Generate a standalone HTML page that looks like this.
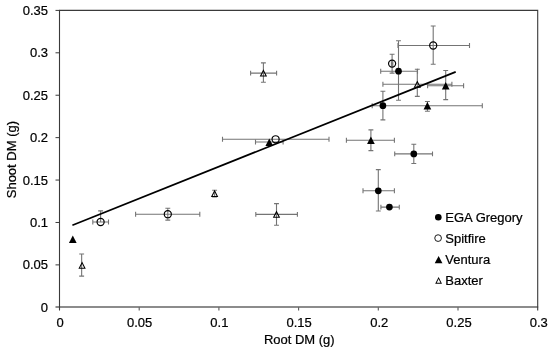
<!DOCTYPE html>
<html><head><meta charset="utf-8"><title>Shoot DM vs Root DM</title>
<style>
html,body{margin:0;padding:0;background:#fff;}
body{width:550px;height:352px;overflow:hidden;}
svg{display:block;opacity:0.999;will-change:transform;}
text{font-family:"Liberation Sans",sans-serif;font-size:13px;fill:#000;stroke:#000;stroke-width:0.22px;}
</style></head><body>
<svg width="550" height="352" viewBox="0 0 550 352">
<rect width="550" height="352" fill="#fff"/>
<g>
<path d="M55.5 306.95H538.2" fill="none" stroke="#666" stroke-width="1.6"/>
<path d="M59.5 310.6V10.4H537.7V310.6" fill="none" stroke="#3a3a3a" stroke-width="1.1"/>
<path d="M55.5 264.89H59.5M55.5 222.47H59.5M55.5 180.06H59.5M55.5 137.64H59.5M55.5 95.23H59.5M55.5 52.81H59.5M55.5 10.40H59.5" fill="none" stroke="#3a3a3a" stroke-width="1"/>
<path d="M139.20 307.3V310.5M218.90 307.3V310.5M298.60 307.3V310.5M378.30 307.3V310.5M458.00 307.3V310.5" fill="none" stroke="#5a5a5a" stroke-width="1.1"/>
</g>
<g fill="none" stroke="#747474" stroke-width="1.1">
<path d="M380.7 71.2H417.5M380.7 68.75V73.65M417.5 68.75V73.65"/>
<path d="M398.5 40.8V100.2M396.05 40.8H400.95M396.05 100.2H400.95"/>
<path d="M382.9 91.3V119.9M380.45 91.3H385.34999999999997M380.45 119.9H385.34999999999997"/>
<path d="M394.7 153.9H432.5M394.7 151.45000000000002V156.35M432.5 151.45000000000002V156.35"/>
<path d="M413.8 144.3V163.5M411.35 144.3H416.25M411.35 163.5H416.25"/>
<path d="M363 190.8H394.4M363 188.35000000000002V193.25M394.4 188.35000000000002V193.25"/>
<path d="M378.3 169.6V211M375.85 169.6H380.75M375.85 211H380.75"/>
<path d="M380.9 207.1H399.3M380.9 204.65V209.54999999999998M399.3 204.65V209.54999999999998"/>
<path d="M398 45.5H469.5M398 43.05V47.95M469.5 43.05V47.95"/>
<path d="M433.2 26V64.2M430.75 26H435.65M430.75 64.2H435.65"/>
<path d="M391.4 63.6H392.8M391.4 61.15V66.05M392.8 61.15V66.05"/>
<path d="M392.1 54.3V73.1M389.65000000000003 54.3H394.55M389.65000000000003 73.1H394.55"/>
<path d="M222.5 139.3H329M222.5 136.85000000000002V141.75M329 136.85000000000002V141.75"/>
<path d="M135.6 214.2H199.8M135.6 211.75V216.64999999999998M199.8 211.75V216.64999999999998"/>
<path d="M167.8 208.3V220.1M165.35000000000002 208.3H170.25M165.35000000000002 220.1H170.25"/>
<path d="M92.8 222H108.5M92.8 219.55V224.45M108.5 219.55V224.45"/>
<path d="M100.6 210.9V222M98.14999999999999 210.9H103.05"/>
<path d="M427.6 85.7H463.6M427.6 83.25V88.15M463.6 83.25V88.15"/>
<path d="M445.7 70.5V99.6M443.25 70.5H448.15M443.25 99.6H448.15"/>
<path d="M372.2 105.8H482.3M372.2 103.35V108.25M482.3 103.35V108.25"/>
<path d="M427.4 101.5V111.2M424.95 101.5H429.84999999999997M424.95 111.2H429.84999999999997"/>
<path d="M346.4 140.3H394.4M346.4 137.85000000000002V142.75M394.4 137.85000000000002V142.75"/>
<path d="M370.9 129.9V150.6M368.45 129.9H373.34999999999997M368.45 150.6H373.34999999999997"/>
<path d="M255.5 142.0H283.1M255.5 139.55V144.45M283.1 139.55V144.45"/>
<path d="M250.6 73.1H276.6M250.6 70.64999999999999V75.55M276.6 70.64999999999999V75.55"/>
<path d="M263.4 62.9V82.2M260.95 62.9H265.84999999999997M260.95 82.2H265.84999999999997"/>
<path d="M382.9 84.3H451.9M382.9 81.85V86.75M451.9 81.85V86.75"/>
<path d="M417.3 69.2V96.4M414.85 69.2H419.75M414.85 96.4H419.75"/>
<path d="M214.6 190.2V197.0M212.15 190.2H217.04999999999998M212.15 197.0H217.04999999999998"/>
<path d="M255.8 214.4H297.4M255.8 211.95000000000002V216.85M297.4 211.95000000000002V216.85"/>
<path d="M276.5 203.6V225.3M274.05 203.6H278.95M274.05 225.3H278.95"/>
<path d="M81.65 254V276.1M79.2 254H84.10000000000001M79.2 276.1H84.10000000000001"/>
</g>
<path d="M72.4 225.2L455.7 71.9" stroke="#000" stroke-width="1.7" fill="none" stroke-linecap="butt"/>
<g>
<circle cx="398.5" cy="71.2" r="3.35" fill="#000"/>
<circle cx="382.9" cy="105.7" r="3.35" fill="#000"/>
<circle cx="413.8" cy="153.9" r="3.35" fill="#000"/>
<circle cx="378.3" cy="190.8" r="3.35" fill="#000"/>
<circle cx="389.4" cy="207.1" r="3.35" fill="#000"/>
<circle cx="433.2" cy="45.5" r="3.55" fill="none" stroke="#000" stroke-width="1.2"/>
<circle cx="392.1" cy="63.6" r="3.55" fill="none" stroke="#000" stroke-width="1.2"/>
<circle cx="275.6" cy="139.3" r="3.55" fill="none" stroke="#000" stroke-width="1.2"/>
<circle cx="167.8" cy="214.2" r="3.55" fill="none" stroke="#000" stroke-width="1.2"/>
<circle cx="100.6" cy="222" r="3.55" fill="none" stroke="#000" stroke-width="1.2"/>
<path d="M445.7 82.0L449.55 89.4H441.84999999999997Z" fill="#000"/>
<path d="M427.4 102.1L431.25 109.5H423.54999999999995Z" fill="#000"/>
<path d="M370.9 136.60000000000002L374.75 144.0H367.04999999999995Z" fill="#000"/>
<path d="M269.3 138.60000000000002L273.15000000000003 146.0H265.45Z" fill="#000"/>
<path d="M72.8 235.5L76.64999999999999 242.89999999999998H68.95Z" fill="#000"/>
<path fill-rule="evenodd" fill="#000" d="M263.4 69.30L267.10 76.55H259.70ZM263.4 71.61L261.41 75.50H265.39Z"/>
<path fill-rule="evenodd" fill="#000" d="M417.3 80.50L421.00 87.75H413.60ZM417.3 82.81L415.31 86.70H419.29Z"/>
<path fill-rule="evenodd" fill="#000" d="M214.6 189.80L218.30 197.05H210.90ZM214.6 192.11L212.61 196.00H216.59Z"/>
<path fill-rule="evenodd" fill="#000" d="M276.5 210.60L280.20 217.85H272.80ZM276.5 212.91L274.51 216.80H278.49Z"/>
<path fill-rule="evenodd" fill="#000" d="M82.1 261.50L85.80 268.75H78.40ZM82.1 263.81L80.11 267.70H84.09Z"/>
</g>
<g>
<circle cx="438.3" cy="217.2" r="3.3" fill="#000"/>
<circle cx="438.1" cy="238.1" r="3.35" fill="none" stroke="#1a1a1a" stroke-width="1"/>
<path d="M438.6 255.90000000000003L442.45000000000005 263.3H434.75Z" fill="#000"/>
<path fill-rule="evenodd" fill="#000" d="M438.6 277.00L442.00 283.65H435.20ZM438.6 279.09L436.75 282.70H440.45Z"/>
</g>
<g>
<text x="48" y="311.80" text-anchor="end">0</text>
<text x="48" y="269.39" text-anchor="end">0.05</text>
<text x="48" y="226.97" text-anchor="end">0.1</text>
<text x="48" y="184.56" text-anchor="end">0.15</text>
<text x="48" y="142.14" text-anchor="end">0.2</text>
<text x="48" y="99.73" text-anchor="end">0.25</text>
<text x="48" y="57.31" text-anchor="end">0.3</text>
<text x="48" y="14.90" text-anchor="end">0.35</text>
<text x="60.00" y="326.6" text-anchor="middle">0</text>
<text x="139.70" y="326.6" text-anchor="middle">0.05</text>
<text x="219.40" y="326.6" text-anchor="middle">0.1</text>
<text x="299.10" y="326.6" text-anchor="middle">0.15</text>
<text x="379.30" y="326.6" text-anchor="middle">0.2</text>
<text x="459.00" y="326.6" text-anchor="middle">0.25</text>
<text x="538.70" y="326.6" text-anchor="middle">0.3</text>
<text x="299.3" y="344.3" text-anchor="middle">Root DM (g)</text>
<text transform="translate(15.9 159.6) rotate(-90)" text-anchor="middle">Shoot DM (g)</text>
<text x="445.3" y="221.6">EGA Gregory</text>
<text x="445.3" y="242.8">Spitfire</text>
<text x="445.3" y="263.8">Ventura</text>
<text x="445.3" y="284.8">Baxter</text>
</g>
</svg>
</body></html>
